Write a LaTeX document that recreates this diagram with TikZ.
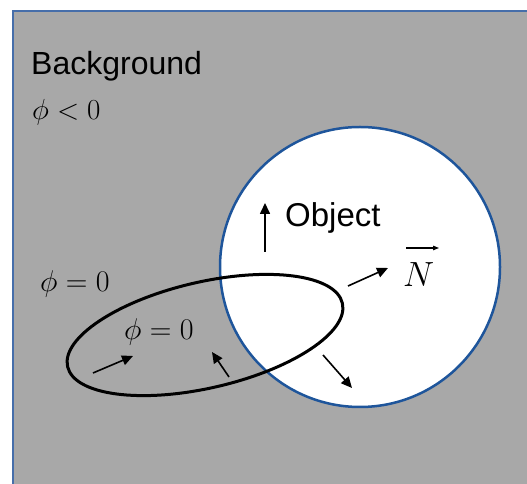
\RequirePackage{fix-cm}
\documentclass[tikz,border=0pt]{standalone}
\usepackage{fontspec}
\setmainfont{Liberation Sans}
\usetikzlibrary{arrows.meta}
\definecolor{bggray}{RGB}{168,168,168}
\definecolor{frameblue}{RGB}{70,110,170}
\definecolor{circblue}{RGB}{30,85,155}
\begin{document}
\begin{tikzpicture}[x=1pt,y=1pt,
  lbl/.style={anchor=base west,inner sep=0pt,font=\fontsize{32}{38}\selectfont},
  mlbl/.style={anchor=base west,inner sep=0pt,font=\fontsize{30}{36}\selectfont},
  vec/.style={line width=1.6pt,-{Triangle[length=11pt,width=10pt]}}]
\useasboundingbox (0,0) rectangle (527,484);
\clip (0,0) rectangle (527,484);
\fill[white] (0,0) rectangle (527,484);
\draw[fill=bggray,draw=frameblue,line width=2.5pt] (13,-10) rectangle (540,473);
\draw[circblue,fill=white,line width=2.5pt] (360,217) circle (140);
\draw[black,line width=3pt,rotate around={13:(205,149)}] (205,149) ellipse (141 and 53);
\node[lbl] (bg) at (31,409) {Background};
\node[mlbl,font=\fontsize{29}{35}\selectfont] (neg) at (32,364) {$\phi<0$};
\node[lbl,font=\fontsize{33}{39}\selectfont] (obj) at (285,257) {Object};
\node[mlbl] (zo) at (40,192) {$\phi=0$};
\node[mlbl] (zi) at (124,144) {$\phi=0$};
\node[mlbl,font=\fontsize{35}{41}\selectfont] (nv) at (403,197) {$N$};
\coordinate (na) at (406,236); \coordinate (nb) at (439,236);
\draw[line width=1.1pt,-{Triangle[length=6pt,width=4.5pt]}] (na) -- (nb);
\coordinate (a1) at (265,232); \coordinate (b1) at (265,281);
\coordinate (a2) at (348,198); \coordinate (b2) at (388,216);
\coordinate (a3) at (93,111);  \coordinate (b3) at (133,128);
\coordinate (a4) at (229,107); \coordinate (b4) at (212,132);
\coordinate (a5) at (323,129); \coordinate (b5) at (352,96);
\draw[vec] (a1) -- (b1);
\draw[vec] (a2) -- (b2);
\draw[vec] (a3) -- (b3);
\draw[vec] (a4) -- (b4);
\draw[vec] (a5) -- (b5);
\end{tikzpicture}
\end{document}
